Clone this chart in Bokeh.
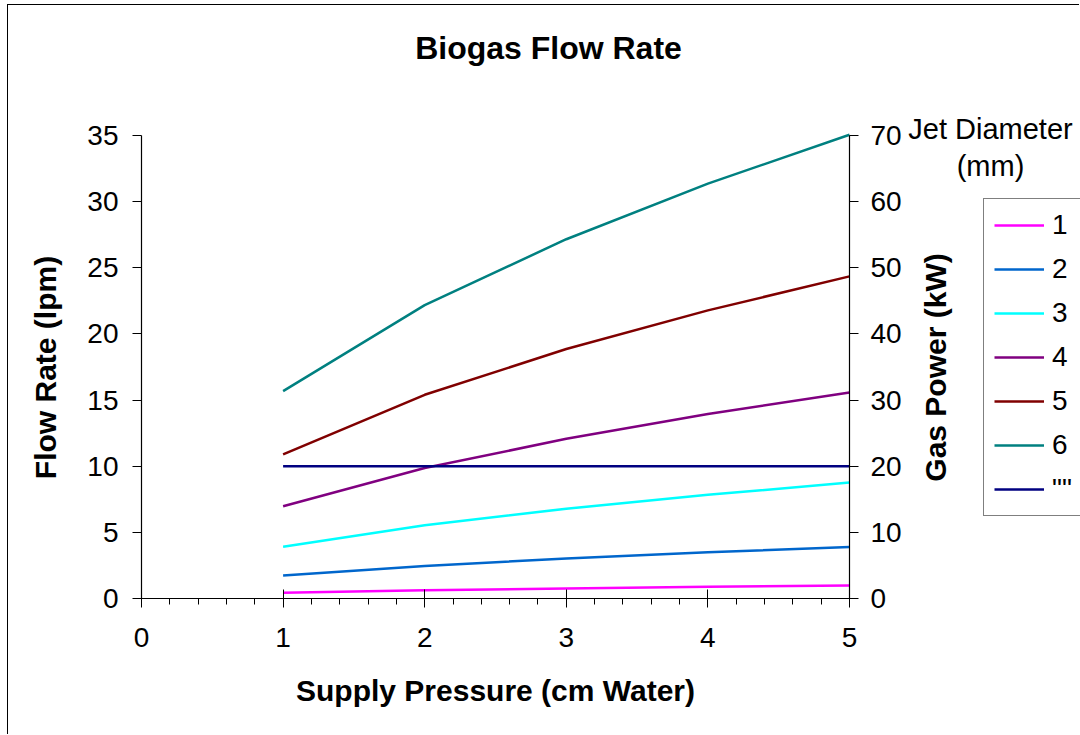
import math
from bokeh.plotting import figure
from bokeh.models import (LinearAxis, Range1d, FixedTicker, Legend, LegendItem, Label, Grid)
from bokeh.embed import file_html
from bokeh.resources import INLINE

# ---- data ----
pressure = [1, 2, 3, 4, 5]
jet_1 = [0.44, 0.62, 0.76, 0.88, 0.98]
jet_2 = [1.74, 2.46, 3.02, 3.49, 3.90]
jet_3 = [3.92, 5.54, 6.79, 7.84, 8.76]
jet_4 = [6.97, 9.86, 12.07, 13.94, 15.58]
jet_5 = [10.89, 15.40, 18.86, 21.78, 24.35]
jet_6 = [15.68, 22.18, 27.16, 31.36, 35.06]
jet_blank = [10, 10, 10, 10, 10]
series_names = ["1", "2", "3", "4", "5", "6", '""']
series_values = [jet_1, jet_2, jet_3, jet_4, jet_5, jet_6, jet_blank]
series_colors = ["#FF00FF", "#0066CC", "#00FFFF", "#800080", "#800000", "#008080", "#000080"]
x_ticks = [0, 1, 2, 3, 4, 5]
y_ticks = [0, 5, 10, 15, 20, 25, 30, 35]
y2_ticks = [0, 10, 20, 30, 40, 50, 60, 70]
x_lim = (0, 5)
y_lim = (0, 35)
y2_lim = (0, 70)

FONT = "Liberation Sans"

# ---- layout (pixels of the canvas) ----
W, H = 1072, 730
PX0, PX1 = 133, 841      # canvas x of x=0 and x=5
PY0, PY1 = 593, 130      # canvas y of y=0 and y=35 (from top)
sx = (PX1 - PX0) / (x_lim[1] - x_lim[0])
sy = (PY0 - PY1) / (y_lim[1] - y_lim[0])
xr = Range1d(x_lim[0] - PX0 / sx, x_lim[1] + (W - PX1) / sx)
yr = Range1d(y_lim[0] - (H - PY0) / sy, y_lim[1] + PY1 / sy)
k2 = y2_lim[1] / y_lim[1]

p = figure(width=W, height=H, output_backend="svg", toolbar_location=None,
           x_range=xr, y_range=yr, min_border=0,
           x_axis_location=None, y_axis_location=None)
p.margin = (4, 0, 0, 7)
p.styles = {"border-left": "1.5px solid black", "border-top": "1.5px solid black"}
p.title.visible = False
p.background_fill_color = "white"
p.border_fill_color = "white"
p.outline_line_color = None
p.extra_y_ranges = {"power": Range1d(yr.start * k2, yr.end * k2)}

def style_axis(ax):
    ax.axis_line_color = "black"
    ax.axis_line_width = 1.2
    ax.major_tick_line_color = "black"
    ax.minor_tick_line_color = "black"
    ax.major_label_text_font = FONT
    ax.major_label_text_font_size = "28px"
    ax.major_label_text_color = "black"

xa = LinearAxis(ticker=FixedTicker(ticks=x_ticks, minor_ticks=[i / 5 for i in range(26)]),
                fixed_location=0, bounds=x_lim)
xa.major_tick_in = 9
xa.major_tick_out = 9
xa.minor_tick_in = 0
xa.minor_tick_out = 6
xa.major_label_standoff = 20
style_axis(xa)
p.add_layout(xa, "below")

ya = LinearAxis(ticker=FixedTicker(ticks=y_ticks), fixed_location=0, bounds=y_lim)
ya.major_tick_in = 0
ya.major_tick_out = 9
ya.minor_tick_in = 0
ya.minor_tick_out = 0
ya.major_label_standoff = 14
style_axis(ya)
p.add_layout(ya, "left")

ra = LinearAxis(y_range_name="power", ticker=FixedTicker(ticks=y2_ticks),
                fixed_location=x_lim[1], bounds=y2_lim)
ra.major_tick_in = 0
ra.major_tick_out = 9
ra.minor_tick_in = 0
ra.minor_tick_out = 0
ra.major_label_standoff = 12
style_axis(ra)
p.add_layout(ra, "right")

# horizontal grid lines limited to the plot area
g1 = Grid(dimension=1, ticker=FixedTicker(ticks=y_ticks[1:-1]),
          grid_line_color="black", grid_line_width=1)
g2 = Grid(dimension=1, ticker=FixedTicker(ticks=[y_ticks[-1]]),
          grid_line_color="#808080", grid_line_width=2)
for g in (g1, g2):
    if "cross_bounds" in g.properties():
        g.cross_bounds = x_lim
        p.add_layout(g)
    else:
        tk = g.ticker.ticks
        p.segment(x0=[x_lim[0]] * len(tk), x1=[x_lim[1]] * len(tk), y0=tk, y1=tk,
                  line_color=g.grid_line_color, line_width=g.grid_line_width)
p.xgrid.visible = False
p.ygrid.visible = False

items = []
for name, vals, col in zip(series_names, series_values, series_colors):
    r = p.line(pressure, vals, line_color=col, line_width=2.5)
    items.append(LegendItem(label=name, renderers=[r]))

# screen positions (from frame left / frame bottom)
def sxy(ax, ay):
    return ax - 8, H - (ay - 5)

legend = Legend(items=items, location=sxy(983, 516))
legend.border_line_color = "black"
legend.border_line_width = 1
legend.background_fill_color = "white"
legend.label_text_font = FONT
legend.label_text_font_size = "28px"
legend.label_text_color = "black"
legend.padding = 10
legend.spacing = 12
legend.label_height = 30
legend.glyph_height = 30
legend.glyph_width = 50
legend.label_standoff = 8
legend.margin = 0
p.add_layout(legend, "center")

texts = [
    ("Biogas Flow Rate", 548, 47, "32px", "bold", 0),
    ("Jet Diameter", 990, 128, "29px", "normal", 0),
    ("(mm)", 990, 165, "29px", "normal", 0),
    ("Supply Pressure (cm Water)", 495, 690, "30px", "bold", 0),
    ("Flow Rate (lpm)", 45, 367, "30px", "bold", math.pi / 2),
    ("Gas Power (kW)", 935, 367, "30px", "bold", math.pi / 2),
]
for t, ax_, ay_, fs, fw, ang in texts:
    lx, ly = sxy(ax_, ay_)
    p.add_layout(Label(x=lx, y=ly, x_units="screen", y_units="screen", text=t,
                       angle=ang, text_align="center", text_baseline="middle",
                       text_font=FONT, text_font_size=fs, text_font_style=fw,
                       text_color="black"))

open("out.html", "w").write(file_html(p, INLINE))
